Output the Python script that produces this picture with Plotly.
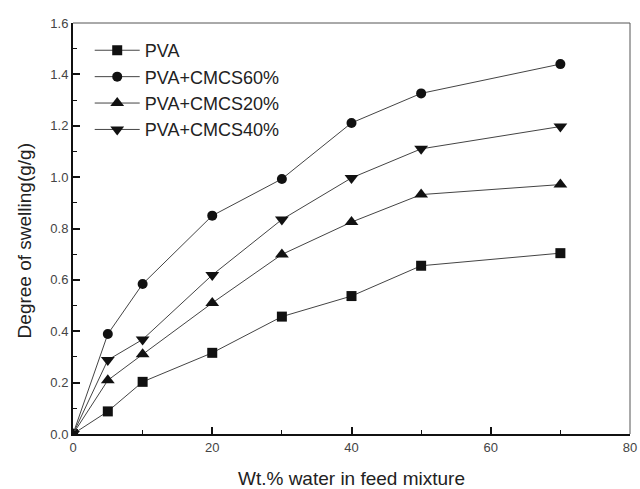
import plotly.graph_objects as go

water = [0, 5, 10, 20, 30, 40, 50, 70]
pva = [0, 0.088, 0.203, 0.316, 0.457, 0.537, 0.655, 0.704]
cmcs60 = [0, 0.389, 0.584, 0.850, 0.993, 1.211, 1.326, 1.440]
cmcs20 = [0, 0.209, 0.310, 0.510, 0.699, 0.825, 0.932, 0.971]
cmcs40 = [0, 0.288, 0.368, 0.619, 0.835, 0.997, 1.110, 1.197]

series = [
    ("PVA", pva, "square"),
    ("PVA+CMCS60%", cmcs60, "circle"),
    ("PVA+CMCS20%", cmcs20, "triangle-up"),
    ("PVA+CMCS40%", cmcs40, "triangle-down"),
]

x_ticks = [0, 20, 40, 60, 80]
y_ticks = [0.0, 0.2, 0.4, 0.6, 0.8, 1.0, 1.2, 1.4, 1.6]

fig = go.Figure()
for name, vals, sym in series:
    fig.add_trace(go.Scatter(
        x=water, y=vals, name=name, mode="lines+markers",
        line=dict(color="#444444", width=1),
        marker=dict(symbol=sym, size=10 if sym in ("square", "circle") else 12, color="#111111"),
        cliponaxis=True,
    ))

font_family = "Liberation Sans, Arial, sans-serif"
fig.update_layout(
    width=640, height=489,
    margin=dict(l=73, r=10, t=23, b=55),
    paper_bgcolor="white", plot_bgcolor="white",
    font=dict(family=font_family, color="#222222"),
    showlegend=True,
    legend=dict(
        x=0.03, y=0.978, xanchor="left", yanchor="top",
        bgcolor="rgba(0,0,0,0)", font=dict(size=18, color="#222222"),
        tracegroupgap=0, itemwidth=45,
    ),
    xaxis=dict(
        range=[0, 80], tickmode="array", tickvals=x_ticks,
        ticktext=[str(v) for v in x_ticks],
        showgrid=False, zeroline=False, automargin=False,
        showline=True, linecolor="#111111", linewidth=2,
        ticks="inside", ticklen=7, tickwidth=1.5, tickcolor="#111111",
        minor=dict(ticks="inside", ticklen=4, tickwidth=1, tickcolor="#111111", dtick=10),
        tickfont=dict(size=13, color="#444444"),
        title=dict(text="Wt.% water in feed mixture", font=dict(size=19, color="#222222"), standoff=22),
    ),
    yaxis=dict(
        range=[0, 1.6], tickmode="array", tickvals=y_ticks,
        ticktext=[f"{v:.1f}" for v in y_ticks],
        showgrid=False, zeroline=False, automargin=False,
        showline=True, linecolor="#111111", linewidth=2,
        ticks="inside", ticklen=7, tickwidth=1.5, tickcolor="#111111",
        minor=dict(ticks="inside", ticklen=4, tickwidth=1, tickcolor="#111111", dtick=0.1),
        tickfont=dict(size=13, color="#444444"),
    ),
    annotations=[
        dict(text="Degree of swelling(g/g)", xref="paper", yref="paper",
             x=-0.088, y=0.471, xanchor="center", yanchor="middle",
             textangle=-90, showarrow=False, font=dict(size=19, color="#222222")),
    ],
    shapes=[
        dict(type="line", xref="paper", yref="paper", x0=0, x1=1, y0=1, y1=1,
             line=dict(color="#555555", width=1)),
        dict(type="line", xref="paper", yref="paper", x0=1, x1=1, y0=0, y1=1,
             line=dict(color="#555555", width=1)),
    ],
)

fig.write_html("out.html")
